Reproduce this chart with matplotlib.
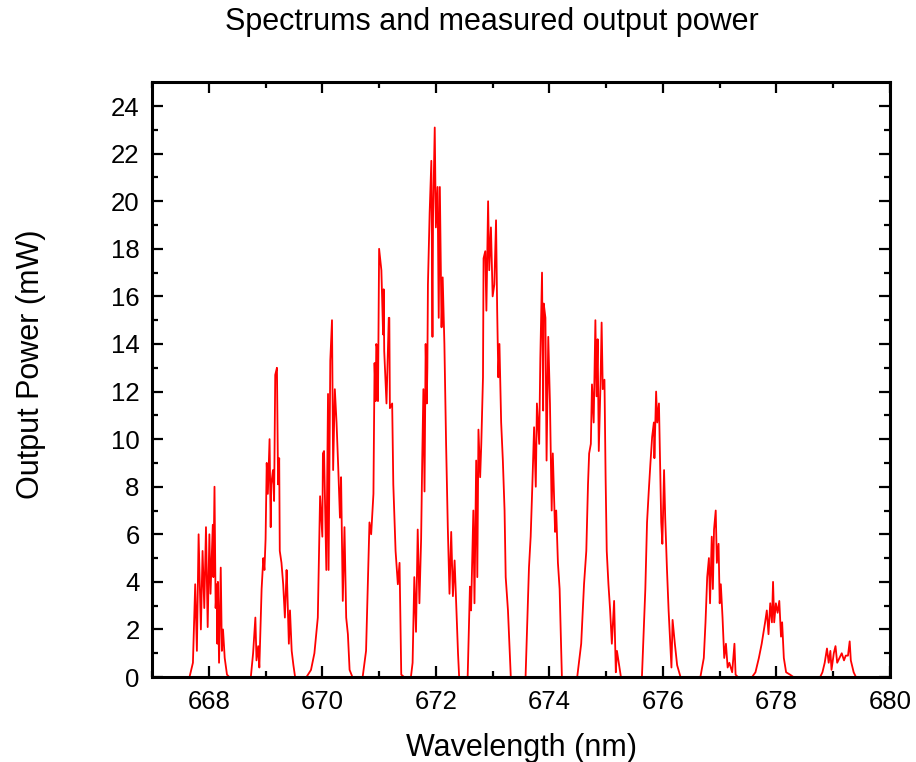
import matplotlib.pyplot as plt
import numpy as np

plt.rcParams['font.family'] = ['Liberation Sans', 'DejaVu Sans']

# spectrum, one block per longitudinal mode group
wl_668 = [667.66, 667.72, 667.76, 667.79, 667.82, 667.86, 667.89, 667.92, 667.95, 667.98,
          668.01, 668.03, 668.07, 668.08, 668.10, 668.12, 668.14, 668.15, 668.16, 668.18,
          668.21, 668.23, 668.25, 668.28, 668.32, 668.36]
pw_668 = [0.0, 0.6, 3.9, 1.1, 6.0, 2.0, 5.3, 2.9, 6.3, 2.1,
          6.0, 3.5, 6.4, 4.2, 8.0, 2.9, 3.9, 1.4, 4.0, 0.6,
          4.6, 1.1, 2.0, 0.8, 0.1, 0.0]

wl_669 = [668.74, 668.78, 668.82, 668.84, 668.87, 668.89, 668.93, 668.96, 668.98, 669.00,
          669.02, 669.04, 669.07, 669.09, 669.10, 669.13, 669.15, 669.17, 669.20, 669.22,
          669.24, 669.25, 669.28, 669.31, 669.34, 669.37, 669.38, 669.41, 669.43, 669.46,
          669.49, 669.52]
pw_669 = [0.0, 1.0, 2.5, 0.7, 1.3, 0.4, 3.7, 5.0, 4.5, 5.8,
          9.0, 7.7, 10.0, 6.3, 8.1, 8.7, 7.4, 12.7, 13.0, 8.1,
          9.2, 5.3, 4.8, 3.9, 2.5, 4.5, 3.9, 1.4, 2.8, 1.1,
          0.5, 0.0]

wl_670 = [669.72, 669.80, 669.86, 669.92, 669.96, 670.00, 670.01, 670.03, 670.07, 670.10,
          670.11, 670.14, 670.17, 670.19, 670.22, 670.25, 670.28, 670.31, 670.33, 670.36,
          670.39, 670.42, 670.45, 670.48, 670.53]
pw_670 = [0.0, 0.3, 1.0, 2.5, 7.6, 5.9, 9.4, 9.5, 4.5, 11.9,
          4.5, 13.3, 15.0, 8.7, 12.1, 10.7, 8.8, 6.7, 8.4, 3.2,
          6.3, 2.5, 1.8, 0.3, 0.0]

wl_671 = [670.71, 670.77, 670.83, 670.86, 670.90, 670.92, 670.94, 670.95, 670.96, 670.98,
          671.00, 671.04, 671.07, 671.08, 671.09, 671.13, 671.17, 671.18, 671.19, 671.23,
          671.25, 671.29, 671.33, 671.36, 671.39, 671.44]
pw_671 = [0.0, 1.1, 6.5, 6.0, 7.7, 13.2, 11.6, 14.0, 13.9, 11.6,
          18.0, 17.1, 14.4, 16.3, 13.7, 11.5, 15.1, 15.1, 11.3, 11.5,
          8.1, 5.3, 3.9, 4.8, 0.1, 0.0]

wl_672 = [671.56, 671.59, 671.62, 671.65, 671.68, 671.71, 671.74, 671.76, 671.78, 671.80,
          671.82, 671.84, 671.85, 671.86, 671.89, 671.92, 671.94, 671.95, 671.98, 672.00,
          672.03, 672.05, 672.07, 672.10, 672.12, 672.15, 672.18, 672.21, 672.24, 672.27,
          672.30, 672.33, 672.36, 672.39, 672.41]
pw_672 = [0.0, 0.6, 4.2, 1.9, 6.2, 3.1, 5.8, 9.2, 12.1, 7.8,
          14.0, 11.5, 13.0, 16.5, 19.5, 21.7, 14.3, 19.3, 23.1, 18.9,
          20.6, 15.1, 20.6, 14.7, 16.8, 14.0, 9.8, 6.3, 3.5, 6.1,
          3.4, 4.9, 2.9, 1.0, 0.0]

wl_673 = [672.56, 672.60, 672.62, 672.66, 672.68, 672.71, 672.73, 672.75, 672.78, 672.80,
          672.83, 672.84, 672.87, 672.89, 672.92, 672.94, 672.97, 673.00, 673.03, 673.06,
          673.08, 673.10, 673.12, 673.15, 673.18, 673.21, 673.23, 673.27, 673.32]
pw_673 = [0.0, 3.8, 2.8, 7.0, 3.1, 9.1, 4.2, 10.4, 8.4, 9.8,
          12.6, 17.6, 17.9, 15.4, 20.0, 17.1, 18.9, 16.0, 16.5, 19.2,
          15.4, 12.6, 14.0, 10.7, 9.1, 7.0, 4.2, 2.8, 0.0]

wl_674 = [673.58, 673.64, 673.67, 673.70, 673.73, 673.76, 673.78, 673.82, 673.84, 673.87,
          673.89, 673.90, 673.93, 673.95, 673.98, 674.01, 674.04, 674.06, 674.10, 674.12,
          674.15, 674.18, 674.22]
pw_674 = [0.0, 4.6, 5.9, 8.1, 10.5, 8.0, 11.5, 9.8, 13.4, 17.0,
          11.2, 15.7, 15.1, 9.1, 14.3, 11.5, 7.0, 9.4, 6.1, 7.0,
          4.8, 3.7, 0.0]

wl_675 = [674.49, 674.53, 674.56, 674.61, 674.65, 674.68, 674.70, 674.73, 674.75, 674.78,
          674.81, 674.83, 674.85, 674.87, 674.90, 674.92, 674.94, 674.97, 674.99, 675.01,
          675.04, 675.07, 675.10, 675.14, 675.17, 675.19, 675.26]
pw_675 = [0.0, 0.8, 1.4, 3.9, 5.3, 8.1, 9.4, 9.8, 12.3, 10.7,
          15.0, 11.8, 14.2, 9.5, 12.3, 14.9, 12.1, 12.5, 8.4, 5.3,
          3.9, 2.8, 1.4, 3.2, 0.2, 1.1, 0.0]

wl_676 = [675.63, 675.69, 675.72, 675.75, 675.78, 675.81, 675.84, 675.85, 675.88, 675.90,
          675.93, 675.95, 675.97, 675.99, 676.02, 676.04, 676.07, 676.10, 676.15, 676.17,
          676.21, 676.25, 676.31]
pw_676 = [0.0, 3.7, 6.5, 7.8, 9.0, 10.1, 10.7, 9.2, 12.0, 10.7,
          11.5, 9.0, 6.5, 5.6, 8.7, 6.7, 4.6, 2.8, 0.4, 2.4,
          1.4, 0.5, 0.0]

wl_677 = [676.66, 676.72, 676.75, 676.78, 676.81, 676.83, 676.86, 676.88, 676.90, 676.93,
          676.95, 676.98, 677.00, 677.02, 677.05, 677.08, 677.11, 677.14, 677.17, 677.22,
          677.26, 677.28, 677.32]
pw_677 = [0.0, 0.8, 2.3, 4.2, 5.0, 3.1, 5.9, 3.7, 6.2, 7.0,
          4.8, 5.6, 3.1, 3.9, 2.5, 0.8, 1.4, 0.4, 0.6, 0.2,
          1.4, 0.1, 0.0]

wl_678 = [677.57, 677.63, 677.69, 677.74, 677.80, 677.83, 677.86, 677.89, 677.92, 677.94,
          677.96, 677.99, 678.02, 678.05, 678.08, 678.10, 678.13, 678.17, 678.24, 678.30]
pw_678 = [0.0, 0.2, 0.8, 1.4, 2.3, 2.8, 1.8, 3.1, 2.3, 4.0,
          2.3, 3.1, 2.7, 3.2, 1.7, 2.3, 0.8, 0.2, 0.1, 0.0]

wl_679 = [678.77, 678.81, 678.85, 678.89, 678.92, 678.95, 678.97, 679.01, 679.04, 679.07,
          679.11, 679.15, 679.19, 679.22, 679.26, 679.29, 679.31, 679.36, 679.40]
pw_679 = [0.0, 0.2, 0.6, 1.2, 0.6, 1.1, 0.3, 1.0, 1.3, 0.6,
          0.8, 1.0, 0.7, 0.9, 0.9, 1.5, 0.7, 0.2, 0.0]

wl = np.concatenate([[667.0], wl_668, wl_669, wl_670, wl_671, wl_672, wl_673,
                     wl_674, wl_675, wl_676, wl_677, wl_678, wl_679, [680.0]])
pw = np.concatenate([[0.0], pw_668, pw_669, pw_670, pw_671, pw_672, pw_673,
                     pw_674, pw_675, pw_676, pw_677, pw_678, pw_679, [0.0]])

fig = plt.figure(figsize=(9.16, 7.62), dpi=100)
ax = fig.add_axes([0.166, 0.1115, 0.8056, 0.7805])
ax.plot(wl, pw, color='#ff0000', lw=1.3)

ax.set_xlim(667, 680)
ax.set_ylim(0, 25)
ax.set_xticks(np.arange(668, 681, 2))
ax.set_xticks(np.arange(667, 681, 1), minor=True)
ax.set_yticks(np.arange(0, 25, 2))
ax.set_yticks(np.arange(1, 25, 2), minor=True)
ax.tick_params(which='both', direction='in', top=True, right=True, labelsize=18.5, width=1.6)
ax.tick_params(which='major', length=8, pad=9)
ax.tick_params(which='minor', length=4.5)
for s in ax.spines.values():
    s.set_linewidth(2.2)

ax.set_xlabel('Wavelength (nm)', fontsize=22)
ax.set_ylabel('Output Power (mW)', fontsize=22)
ax.xaxis.set_label_coords(0.5, -0.094)
ax.yaxis.set_label_coords(-0.1436, 0.526)
fig.suptitle('Spectrums and measured output power', fontsize=22, x=0.537, y=0.971, va='center')

plt.savefig('out.png', dpi=100)
